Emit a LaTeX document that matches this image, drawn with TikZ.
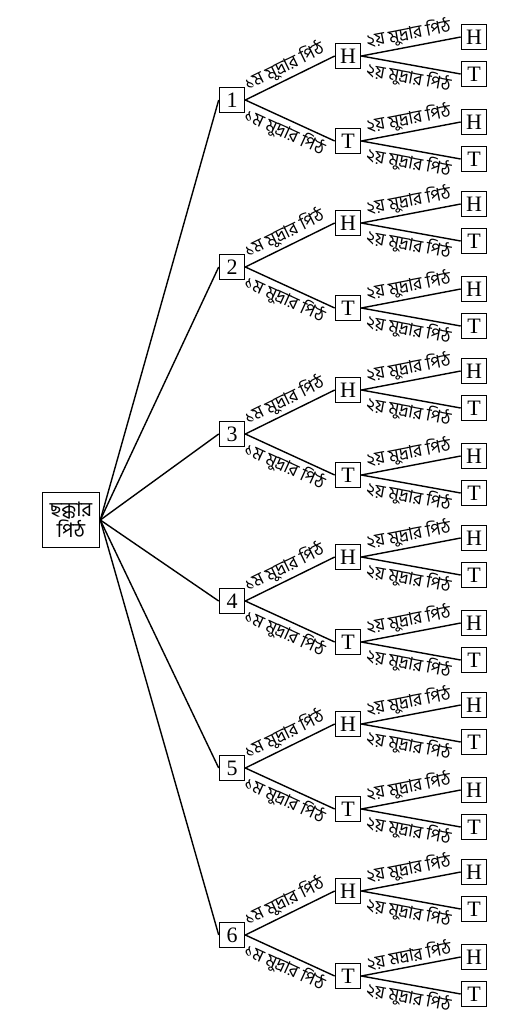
\documentclass[tikz,border=0pt]{standalone}
\usepackage{fontspec}
\setmainfont{Liberation Serif}
\newfontfamily\bnfont[Script=Bengali]{Hind Siliguri}
\begin{document}
\begin{tikzpicture}[x=0.5pt,y=-0.5pt,
  box/.style={draw, line width=0.8pt, minimum size=12.5pt, inner sep=1pt,
    font=\fontsize{11}{12}\selectfont},
  edge/.style={line width=0.7pt},
  lbl/.style={sloped, inner sep=1.2pt, font=\bnfont\fontsize{8.8}{10}\selectfont}]
  \useasboundingbox (0,0) rectangle (516,1024);

  % root: the die
  \node[box, minimum width=28.5pt, minimum height=27.5pt, align=center,
    font=\bnfont\fontsize{10}{10.5}\selectfont] (root) at (71,520) {ছক্কার\\পিঠ};

  % one branch per face of the die, two coins after it
  \foreach \i/\tw in {1/মুদ্রার,2/মুদ্রার,3/মুদ্রার,4/মুদ্রার,5/মুদ্রার,6/মদ্রার} {
    \pgfmathsetmacro\b{37 + 167*(\i-1)}
    \node[box] (d\i) at (232,\b+63) {\i};
    % first coin
    \node[box] (h\i) at (348,\b+19) {H};
    \node[box] (t\i) at (348,\b+104) {T};
    % second coin
    \node[box] (hh\i) at (474,\b) {H};
    \node[box] (ht\i) at (474,\b+37) {T};
    \node[box] (th\i) at (474,\b+85) {H};
    \node[box] (tt\i) at (474,\b+122) {T};

    \draw[edge] (root.east) -- (d\i.west);
    \draw[edge] (d\i.east) -- node[lbl, above] {১ম মুদ্রার পিঠ} (h\i.west);
    \draw[edge] (d\i.east) -- node[lbl, below] {১ম মুদ্রার পিঠ} (t\i.west);
    \draw[edge] (h\i.east) -- node[lbl, above] {২য় মুদ্রার পিঠ} (hh\i.west);
    \draw[edge] (h\i.east) -- node[lbl, below] {২য় মুদ্রার পিঠ} (ht\i.west);
    \draw[edge] (t\i.east) -- node[lbl, above] {২য় \tw{} পিঠ} (th\i.west);
    \draw[edge] (t\i.east) -- node[lbl, below] {২য় মুদ্রার পিঠ} (tt\i.west);
  }
\end{tikzpicture}
\end{document}
